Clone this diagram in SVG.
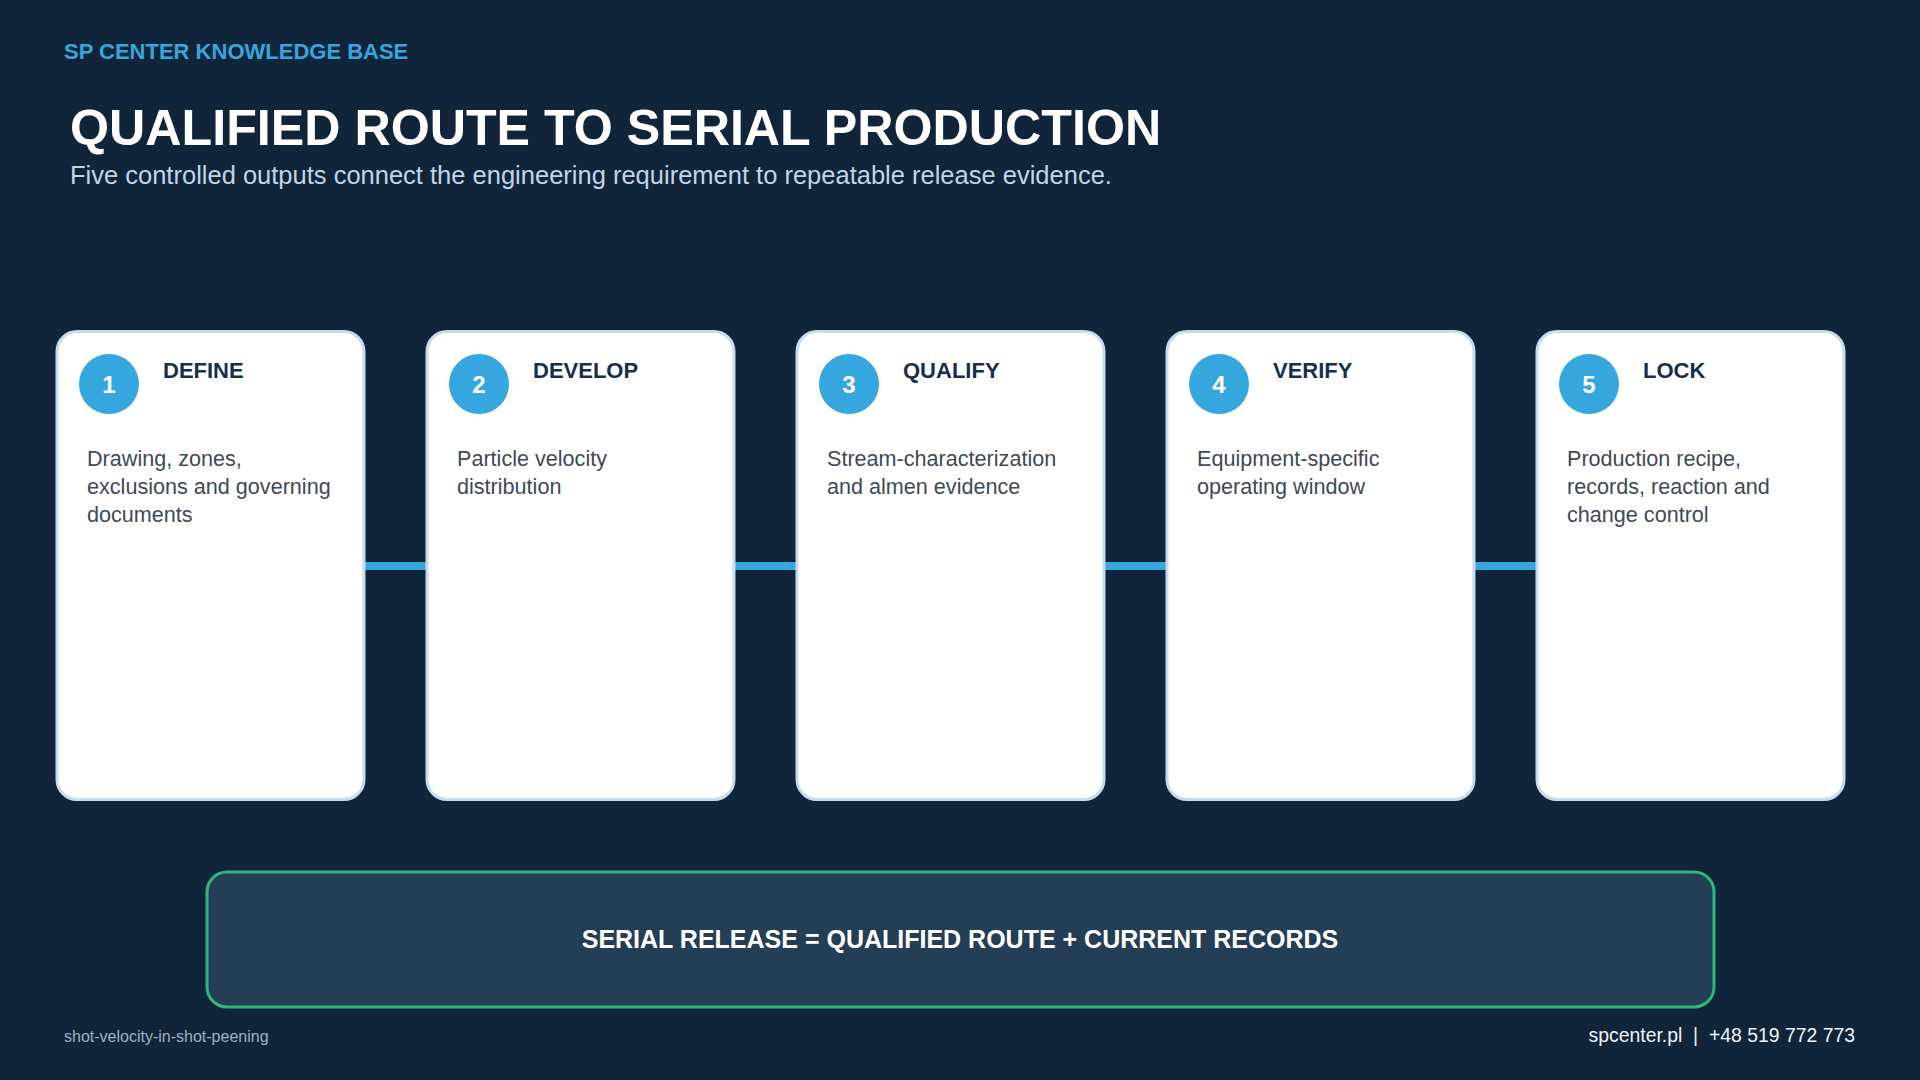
<svg xmlns="http://www.w3.org/2000/svg" width="1920" height="1080" viewBox="0 0 1920 1080">
<style>
text{font-family:"Liberation Sans",Arial,sans-serif}
.card{fill:#ffffff;stroke:#c6dceb;stroke-width:3}
.badge{fill:#36a6de}
.num{font-size:24px;font-weight:bold;fill:#ffffff;text-anchor:middle}
.ttl{font-size:22px;font-weight:bold;fill:#15304d}
.desc{font-size:21.6px;fill:#3e4a57}
.bar{fill:#36a6de}
</style>
<rect width="1920" height="1080" fill="#10243a"/>
<text x="64" y="59" font-size="22" font-weight="bold" fill="#36a6de">SP CENTER KNOWLEDGE BASE</text>
<text x="70" y="145" font-size="50.2" font-weight="bold" fill="#ffffff">QUALIFIED ROUTE TO SERIAL PRODUCTION</text>
<text x="70" y="184" font-size="25.5" fill="#c3d4e6">Five controlled outputs connect the engineering requirement to repeatable release evidence.</text>
<g id="connectors">
<rect class="bar" x="364" y="562" width="63" height="8"/>
<rect class="bar" x="734" y="562" width="63" height="8"/>
<rect class="bar" x="1104" y="562" width="63" height="8"/>
<rect class="bar" x="1474" y="562" width="63" height="8"/>
</g>
<g id="node1">
<rect class="card" x="57" y="331.5" width="307" height="468" rx="20"/>
<circle class="badge" cx="109" cy="384" r="30"/>
<text class="num" x="109" y="393">1</text>
<text class="ttl" x="163" y="378">DEFINE</text>
<text class="desc" x="87" y="466">Drawing, zones,</text>
<text class="desc" x="87" y="494">exclusions and governing</text>
<text class="desc" x="87" y="522">documents</text>
</g>
<g id="node2">
<rect class="card" x="427" y="331.5" width="307" height="468" rx="20"/>
<circle class="badge" cx="479" cy="384" r="30"/>
<text class="num" x="479" y="393">2</text>
<text class="ttl" x="533" y="378">DEVELOP</text>
<text class="desc" x="457" y="466">Particle velocity</text>
<text class="desc" x="457" y="494">distribution</text>
</g>
<g id="node3">
<rect class="card" x="797" y="331.5" width="307" height="468" rx="20"/>
<circle class="badge" cx="849" cy="384" r="30"/>
<text class="num" x="849" y="393">3</text>
<text class="ttl" x="903" y="378">QUALIFY</text>
<text class="desc" x="827" y="466">Stream-characterization</text>
<text class="desc" x="827" y="494">and almen evidence</text>
</g>
<g id="node4">
<rect class="card" x="1167" y="331.5" width="307" height="468" rx="20"/>
<circle class="badge" cx="1219" cy="384" r="30"/>
<text class="num" x="1219" y="393">4</text>
<text class="ttl" x="1273" y="378">VERIFY</text>
<text class="desc" x="1197" y="466">Equipment-specific</text>
<text class="desc" x="1197" y="494">operating window</text>
</g>
<g id="node5">
<rect class="card" x="1537" y="331.5" width="307" height="468" rx="20"/>
<circle class="badge" cx="1589" cy="384" r="30"/>
<text class="num" x="1589" y="393">5</text>
<text class="ttl" x="1643" y="378">LOCK</text>
<text class="desc" x="1567" y="466">Production recipe,</text>
<text class="desc" x="1567" y="494">records, reaction and</text>
<text class="desc" x="1567" y="522">change control</text>
</g>
<g id="release">
<rect x="207" y="872" width="1507" height="135" rx="20" fill="#243e56" stroke="#2fb57e" stroke-width="3"/>
<text x="960" y="948" font-size="25" font-weight="bold" fill="#ffffff" text-anchor="middle">SERIAL RELEASE = QUALIFIED ROUTE + CURRENT RECORDS</text>
</g>
<text x="64" y="1042" font-size="16" fill="#9fb1c4">shot-velocity-in-shot-peening</text>
<text x="1855" y="1042" font-size="19.4" fill="#eef3f8" text-anchor="end" xml:space="preserve">spcenter.pl  |  +48 519 772 773</text>
</svg>
